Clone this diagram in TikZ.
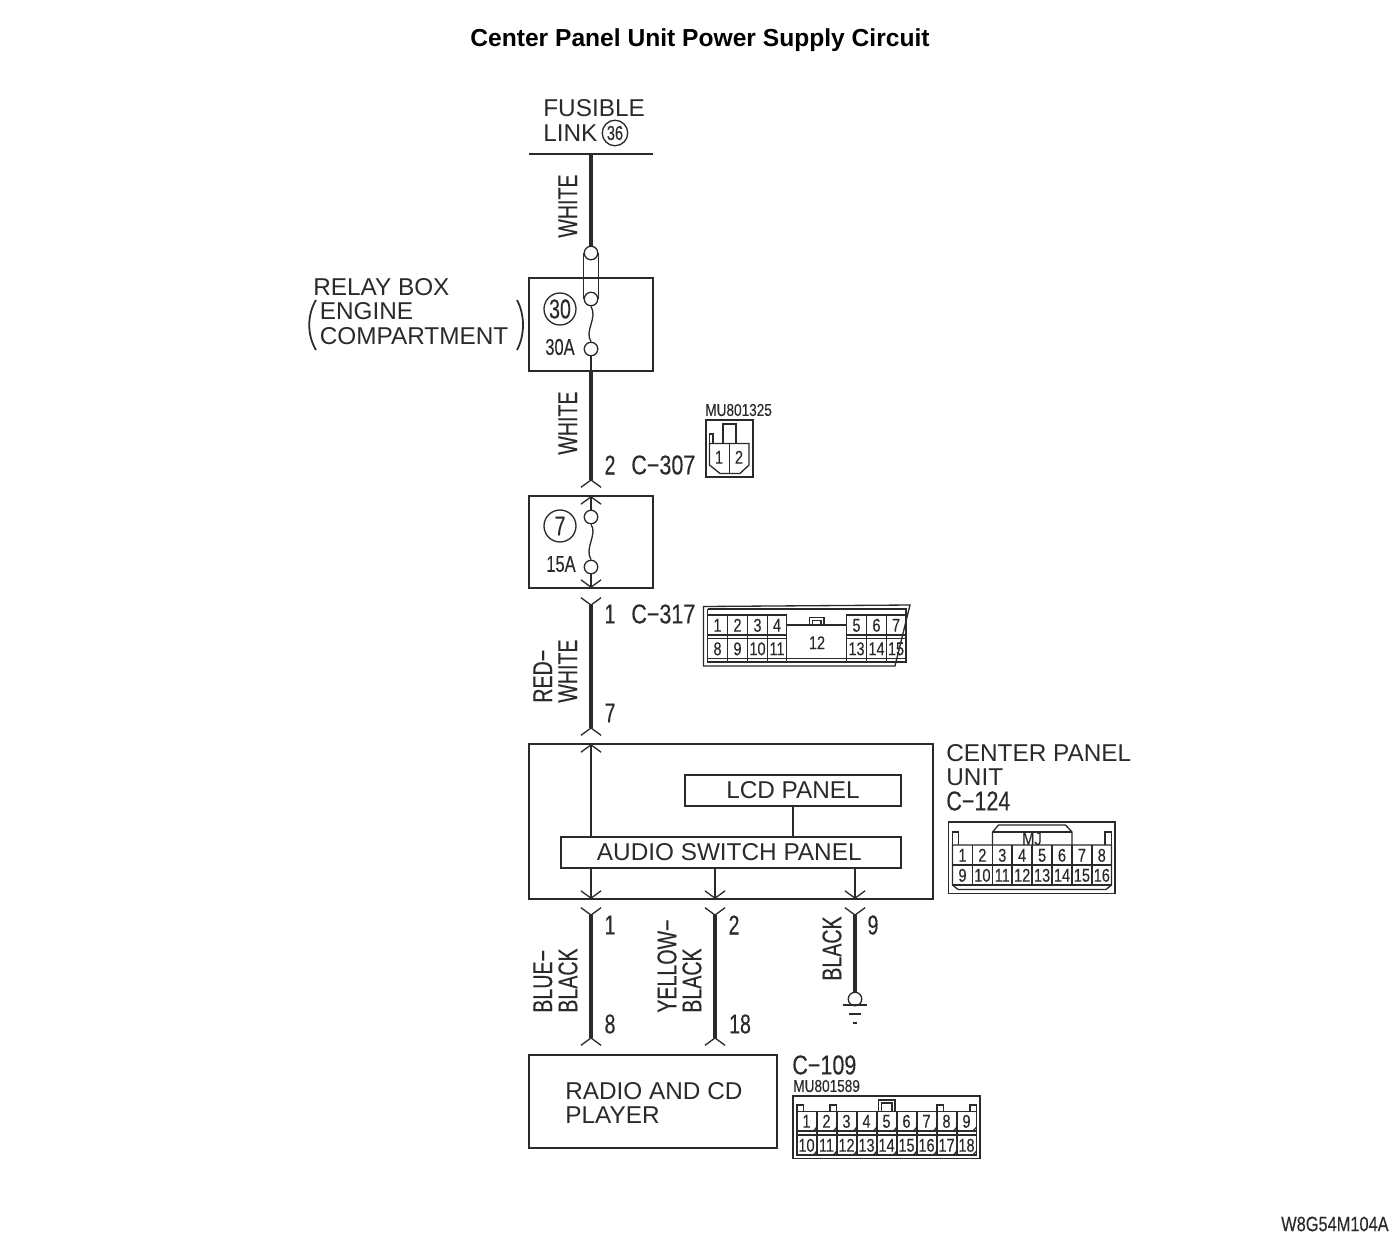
\documentclass[tikz,border=0pt]{standalone}
\usepackage{fontspec}
\setmainfont{Liberation Sans}
\newfontfamily\narrowfont[FakeStretch=0.72,FakeBold=0.25]{Liberation Sans}
\newfontfamily\cnamefont[FakeStretch=0.79,FakeBold=0.25]{Liberation Sans}
\usetikzlibrary{arrows.meta}
\definecolor{ink}{HTML}{2A2A2A}
\tikzset{
  plainname/.style={inner sep=0pt, anchor=west, text=ink, font=\fontsize{13.85}{13.85}\selectfont},
  wirename/.style={inner sep=0pt, text=ink, font=\narrowfont\fontsize{15.5}{15.5}\selectfont},
  sidename/.style={wirename, rotate=90, anchor=north west},
  conname/.style={inner sep=0pt, anchor=west, text=ink, font=\cnamefont\fontsize{15.5}{15.5}\selectfont},
  pinname/.style={inner sep=0pt, text height=7.6pt, text depth=0pt, text=ink, font=\cnamefont\fontsize{10.5}{10.5}\selectfont},
  partname/.style={inner sep=0pt, anchor=west, text=ink, font=\cnamefont\fontsize{9.8}{9.8}\selectfont},
  thinline/.style={draw=ink, line width=.75pt},
  wire/.style={draw=ink, line width=2.2pt},
  unitbox/.style={draw=ink, line width=.75pt, inner sep=0pt, outer sep=0pt},
  term/.style={circle, draw=ink, line width=.75pt, fill=white, inner sep=0pt, minimum size=.27cm},
  fuseno/.style={circle, draw=ink, line width=.75pt, inner sep=0pt, minimum size=.64cm, text=ink, font=\narrowfont\fontsize{15.5}{15.5}\selectfont},
  barb/.tip={Straight Barb[length=4.2pt, width=11.5pt, line width=.75pt]},
  rbarb/.tip={Straight Barb[length=4.2pt, width=11.5pt, line width=.75pt, reversed]}
}
\begin{document}
\begin{tikzpicture}[x=.02cm, y=-.02cm]
  \useasboundingbox (0,0) rectangle (1400,1241);
  % title and corner mark
  \node[inner sep=0pt, text=black, font=\fontsize{14}{14}\selectfont\bfseries] (title) at (700,40) {Center Panel Unit Power Supply Circuit};
  \node[inner sep=0pt, anchor=east, text=ink, font=\cnamefont\fontsize{11.8}{11.8}\selectfont] (figmark) at (1389,1224) {W8G54M104A};

  % fusible link
  \coordinate (busleft) at (529,154);
  \coordinate (busright) at (653,154);
  \coordinate (bustap) at (591,154);
  \draw[draw=ink, line width=1.7pt] (busleft) -- (busright);
  \node[plainname] (fusibletext) at (543,108) {FUSIBLE};
  \node[plainname] (linktext) at (543,133) {LINK};
  \node[circle, draw=ink, line width=.75pt, inner sep=0pt, minimum size=.51cm, text=ink, font=\narrowfont\fontsize{11.5}{11.5}\selectfont] (linkno) at (615,133) {36};

  % relay box
  \node[unitbox, minimum width=2.48cm, minimum height=1.86cm] (relaybox) at (591,324.5) {};
  \node[term] (fuseAtop) at (591,253) {};
  \node[term] (fuseAmid) at (591,299) {};
  \node[term] (fuseAlow) at (591,349) {};
  \draw[wire] (bustap) -- (fuseAtop);
  \draw[thinline] (fuseAtop.west) -- (fuseAmid.west);
  \draw[thinline] (fuseAtop.east) -- (fuseAmid.east);
  \draw[thinline] (fuseAmid.south) .. controls (598,318) and (584,331) .. (fuseAlow.north);
  \draw[thinline] (fuseAlow.south) -- (relaybox.south);
  \node[fuseno] (fuseAno) at (560,309) {30};
  \node[wirename, font=\narrowfont\fontsize{13}{13}\selectfont] (fuseAamp) at (560,347) {30A};
  \node[plainname] (relaytext) at (313,287) {RELAY BOX};
  \node[plainname] (enginetext) at (319.5,311.5) {ENGINE};
  \node[plainname] (comparttext) at (319.5,336) {COMPARTMENT};
  \coordinate (plefttop) at (316,300);
  \coordinate (pleftlow) at (316,350);
  \coordinate (prighttop) at (517,300);
  \coordinate (prightlow) at (517,350);
  \draw[thinline, line width=1pt] (plefttop) .. controls (307,315) and (307,335) .. (pleftlow);
  \draw[thinline, line width=1pt] (prighttop) .. controls (525,315) and (525,335) .. (prightlow);
  \node[sidename] (whiteA) at (558,238) {WHITE};

  % fuse 7
  \node[unitbox, minimum width=2.48cm, minimum height=1.84cm] (fusebox) at (591,542) {};
  \coordinate (plugAtop) at (591,488);
  \coordinate (plugAlow) at (591,597);
  \draw[wire, -{rbarb}] (relaybox.south) -- (plugAtop);
  \node[term] (fuseBtop) at (591,517) {};
  \node[term] (fuseBlow) at (591,567) {};
  \draw[thinline, -{barb}] (fuseBtop.north) -- (fusebox.north);
  \draw[thinline] (fuseBtop.south) .. controls (598,534) and (584,548) .. (fuseBlow.north);
  \draw[thinline, -{barb}] (fuseBlow.south) -- (fusebox.south);
  \node[fuseno] (fuseBno) at (560,526) {7};
  \node[wirename, font=\narrowfont\fontsize{13}{13}\selectfont] (fuseBamp) at (561,564) {15A};
  \node[sidename] (whiteB) at (558,455) {WHITE};
  \node[wirename] (pinC) at (610,465) {2};
  \node[conname] (cnamea) at (631,465) {C−307};
  \node[partname] (partA) at (705,410) {MU801325};

  % red white wire
  \coordinate (plugBlow) at (591,736);
  \draw[wire, {rbarb}-{rbarb}] (plugAlow) -- (plugBlow);
  \node[wirename] (pinD) at (610,614) {1};
  \node[conname] (cnameb) at (631,614) {C−317};
  \node[wirename] (pinE) at (610,713) {7};
  \node[sidename] (redtext) at (533,703) {RED−};
  \node[sidename] (whiteC) at (558,703) {WHITE};

  % center panel unit
  \node[unitbox, minimum width=8.08cm, minimum height=3.1cm] (centerunit) at (731,821.5) {};
  \node[unitbox, minimum width=4.32cm, minimum height=.62cm, font=\fontsize{13.85}{13.85}\selectfont, text=ink] (lcdpanel) at (793,790.5) {LCD PANEL};
  \node[unitbox, minimum width=6.8cm, minimum height=.62cm, font=\fontsize{13.85}{13.85}\selectfont, text=ink] (audiopanel) at (731,852.5) {AUDIO SWITCH PANEL\kern2pt};
  \draw[thinline] (lcdpanel.south) -- (lcdpanel.south |- audiopanel.north);
  \coordinate (tapup) at (591,837);
  \draw[thinline, -{barb}] (tapup) -- (tapup |- centerunit.north);
  \foreach \x/\nm in {591/one, 715/two, 855/three} {
    \coordinate (tap\nm) at (\x,868);
    \coordinate (out\nm) at (\x,899);
    \draw[thinline, -{barb}] (tap\nm) -- (out\nm);
  }
  \node[plainname] (centertext) at (946,753) {CENTER PANEL};
  \node[plainname] (unittext) at (946,777) {UNIT};
  \node[conname] (cnamec) at (946,801) {C−124};

  % wires to radio and ground
  \node[unitbox, minimum width=4.96cm, minimum height=1.86cm] (radiobox) at (653,1101.5) {};
  \coordinate (wireAtop) at (591,907);
  \coordinate (wireAlow) at (591,1046);
  \coordinate (wireBtop) at (715,907);
  \coordinate (wireBlow) at (715,1046);
  \coordinate (wireCtop) at (855,907);
  \node[term] (groundterm) at (855,999) {};
  \draw[wire, line width=1.9pt, {rbarb}-{rbarb}] (wireAtop) -- (wireAlow);
  \draw[wire, line width=1.9pt, {rbarb}-{rbarb}] (wireBtop) -- (wireBlow);
  \draw[wire, line width=1.9pt, {rbarb}-] (wireCtop) -- (groundterm);
  \coordinate (groundA) at (843,1005);
  \coordinate (groundB) at (867,1005);
  \coordinate (groundC) at (849,1014);
  \coordinate (groundD) at (861,1014);
  \coordinate (groundE) at (853,1023);
  \coordinate (groundF) at (857,1023);
  \draw[thinline] (groundA) -- (groundB);
  \draw[thinline] (groundC) -- (groundD);
  \draw[thinline] (groundE) -- (groundF);
  \node[wirename] (pinF) at (610,925) {1};
  \node[wirename] (pinG) at (734,925) {2};
  \node[wirename] (pinH) at (873,925) {9};
  \node[wirename] (pinI) at (610,1024) {8};
  \node[wirename] (pinJ) at (740,1024) {18};
  \node[sidename] (bluetext) at (533,1013) {BLUE−};
  \node[sidename] (blackA) at (558,1013) {BLACK};
  \node[sidename] (yellowtext) at (657,1013) {YELLOW−};
  \node[sidename] (blackB) at (682,1013) {BLACK};
  \node[sidename] (blackC) at (822,981) {BLACK};
  \node[plainname] (radiotext) at (565,1091) {RADIO AND CD};
  \node[plainname] (playertext) at (565,1115.5) {PLAYER};
  \node[conname] (cnamed) at (792,1065) {C−109};
  \node[partname] (partB) at (793,1086) {MU801589};

  % connector C-307
  \begin{scope}[thinline]
    \draw (706,420) rectangle (753,477);
    \draw (709.5,443.5) -- (749,443.5) -- (749,465) -- (740,473.5) -- (720,473.5) -- (709.5,465) -- cycle;
    \draw (723,443.5) -- (723,424) -- (736,424) -- (736,443.5);
    \draw (709.5,443.5) -- (709.5,434) -- (713,434) -- (713,443.5);
    \draw (729.5,443.5) -- (729.5,473.5);
  \end{scope}
  \node[pinname] (pa1) at (719,457) {1};
  \node[pinname] (pa2) at (739,457) {2};

  % connector C-317
  \begin{scope}[thinline]
    \draw (703.5,606.5) -- (910,605) -- (895,666) -- (703.5,666) -- cycle;
    \draw (707.5,609) -- (707.5,662) -- (902,662);
    \draw (707.5,609) -- (906,609) -- (906,662) -- (902,662);
    \draw (707.5,615) -- (786.5,615) -- (786.5,662);
    \draw (846.5,662) -- (846.5,615) -- (906,615);
    \draw (786.5,625) -- (846.5,625);
    \draw (809.5,625) -- (809.5,617.5) -- (824,617.5) -- (824,625);
    \draw (812.5,625) -- (812.5,620.5) -- (821,620.5) -- (821,625);
    \draw (707.5,635) -- (786.5,635);
    \draw (707.5,638.5) -- (786.5,638.5);
    \draw (846.5,635) -- (906,635);
    \draw (846.5,638.5) -- (906,638.5);
    \draw (707.5,658.5) -- (906,658.5);
    \foreach \x in {727.5,747.5,767.5,866.5,886.5} \draw (\x,615) -- (\x,662);
  \end{scope}
  \foreach \n/\x/\y in {1/717.5/625, 2/737.5/625, 3/757.5/625, 4/777/625, 5/856.5/625, 6/876.5/625, 7/896/625, 8/717.5/648.5, 9/737.5/648.5, 10/757.5/648.5, 11/777/648.5, 13/856.5/648.5, 14/876.5/648.5, 15/896/648.5}
    \node[pinname] (pb\n) at (\x,\y) {\n};
  \node[pinname] (pb12) at (817,642.5) {12};

  % connector C-124
  \begin{scope}[thinline]
    \draw (948.5,822) rectangle (1115,893.5);
    \draw (952.5,845) -- (952.5,885) -- (958,889.5) -- (1106,889.5) -- (1111.5,885) -- (1111.5,845) -- cycle;
    \draw (952.5,885) -- (1111.5,885);
    \draw (952.5,865) -- (1111.5,865);
    \foreach \x in {972.5,992.5,1012,1032,1052,1072,1092} \draw (\x,845) -- (\x,885);
    \draw (992.5,845) -- (992.5,832) -- (998.5,825) -- (1065.5,825) -- (1072,832) -- (1072,845);
    \draw (992.5,832) -- (1072,832);
    \draw (952.5,845) -- (952.5,832) -- (958.5,832) -- (958.5,845);
    \draw (1105,845) -- (1105,832) -- (1111.5,832) -- (1111.5,845);
  \end{scope}
  \node[pinname] (pcMJ) at (1032,838.5) {MJ};
  \foreach \n [evaluate=\n as \x using 962.5+19.9*(\n-1)] in {1,...,8}
    \node[pinname] (pc\n) at (\x,855) {\n};
  \foreach \n [evaluate=\n as \x using 962.5+19.9*(\n-9)] in {9,...,16}
    \node[pinname] (pc\n) at (\x,875) {\n};

  % connector C-109
  \begin{scope}[thinline]
    \draw (793,1096) rectangle (980,1158.5);
    \draw (797,1111.5) rectangle (976.5,1155);
    \draw (797,1131) -- (976.5,1131);
    \draw (797,1135) -- (976.5,1135);
    \foreach \x in {817,837,857,877,897,917,937,957} \draw (\x,1111.5) -- (\x,1155);
    \foreach \x in {797,830,937,970} \draw (\x,1111.5) -- (\x,1105) -- (\x+6.5,1105) -- (\x+6.5,1111.5);
    \draw (878.5,1111.5) -- (878.5,1100) -- (895,1100) -- (895,1111.5);
    \draw (881.5,1111.5) -- (881.5,1103) -- (892,1103) -- (892,1111.5);
    \foreach \x in {817,837,857,877,897,917,937,957,976.5} {
      \draw (\x-3.5,1131) -- (\x-.5,1127.5);
      \draw (\x-3.5,1155) -- (\x-.5,1151.5);
    }
  \end{scope}
  \foreach \n [evaluate=\n as \x using 806.5+20*(\n-1)] in {1,...,9}
    \node[pinname] (pd\n) at (\x,1121) {\n};
  \foreach \n [evaluate=\n as \x using 806.5+20*(\n-10)] in {10,...,18}
    \node[pinname] (pd\n) at (\x,1145) {\n};
\end{tikzpicture}
\end{document}
